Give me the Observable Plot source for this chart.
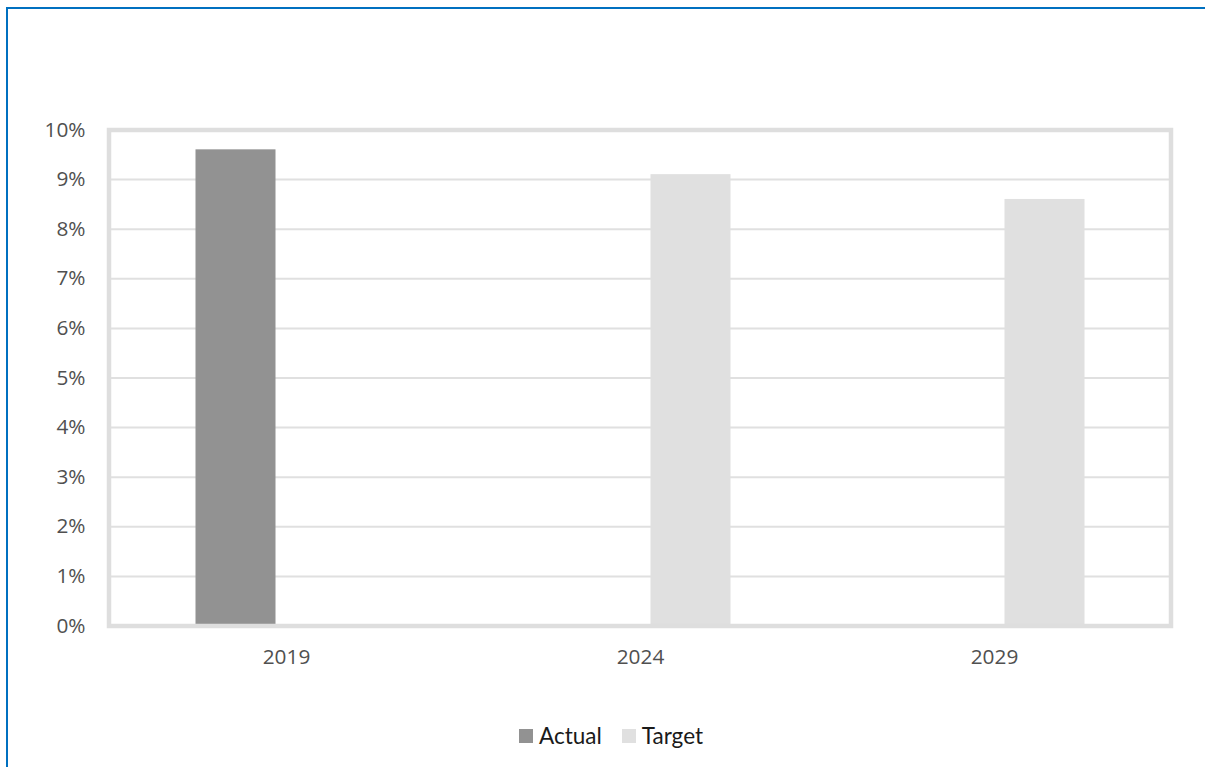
<!DOCTYPE html>
<html>
<head>
<meta charset="utf-8">
<script src="https://cdn.jsdelivr.net/npm/d3@7"></script>
<script src="https://cdn.jsdelivr.net/npm/@observablehq/plot@0.6"></script>
<style>
  html, body { margin: 0; padding: 0; background: #fff; overflow: hidden; width: 1205px; height: 767px; }
  #box { position: absolute; left: 6px; top: 7px; width: 1300px; height: 900px; border: 2px solid #0070C0; box-sizing: border-box; }
  #chart { position: absolute; left: 0; top: 0; }
  #legend { position: absolute; top: 722px; left: 519px; display: flex; align-items: center; font-family: Lato, "Open Sans", sans-serif; font-size: 22.5px; color: #1a1a1a; white-space: nowrap; }
  .sw { display: inline-block; width: 14px; height: 14px; margin-right: 6px; }
  .item { display: flex; align-items: center; margin-right: 20px; }
</style>
</head>
<body>
<div id="box"></div>
<div id="chart"></div>
<div id="legend"></div>
<script>
const years = ["2019", "2024", "2029"];
const seriesNames = ["Actual", "Target"];
const actual = [0.096, null, null];
const target = [null, 0.091, 0.086];
const yTicks = [0, 0.01, 0.02, 0.03, 0.04, 0.05, 0.06, 0.07, 0.08, 0.09, 0.10];
const colors = ["#929292", "#e0e0e0"];

const rows = [];
years.forEach((y, i) => {
  if (actual[i] != null) rows.push({year: y, series: "Actual", value: actual[i]});
  if (target[i] != null) rows.push({year: y, series: "Target", value: target[i]});
});

const chart = Plot.plot({
  width: 1205,
  height: 690,
  marginLeft: 108.5,
  marginRight: 34.5,
  marginTop: 129.5,
  marginBottom: 64.5,
  style: {fontFamily: "'Open Sans', sans-serif", fontSize: "20.8px", color: "#505050", background: "transparent", overflow: "visible"},
  x: {type: "band", domain: years, padding: 0, label: null, tickSize: 0, tickPadding: 23.5},
  y: {domain: [0, 0.10], ticks: yTicks, tickFormat: d3.format(".0%"), label: null, tickSize: 0, tickPadding: 23.5},
  color: {domain: seriesNames, range: colors},
  marks: [
    Plot.ruleY(yTicks.slice(1, -1), {stroke: "#e0e0e0", strokeWidth: 2}),
    Plot.barY(rows.filter(d => d.series === "Actual"), {x: "year", y: "value", fill: "series", insetLeft: 86.5, insetRight: 187.5}),
    Plot.barY(rows.filter(d => d.series === "Target"), {x: "year", y: "value", fill: "series", insetLeft: 187.5, insetRight: 86.5}),
    Plot.frame({stroke: "#dedede", strokeWidth: 4.5})
  ]
});
document.getElementById("chart").appendChild(chart);

const legend = document.getElementById("legend");
seriesNames.forEach((name, i) => {
  const item = document.createElement("div");
  item.className = "item";
  const sw = document.createElement("span");
  sw.className = "sw";
  sw.style.background = colors[i];
  const t = document.createElement("span");
  t.textContent = name;
  item.appendChild(sw);
  item.appendChild(t);
  legend.appendChild(item);
});
</script>
</body>
</html>
